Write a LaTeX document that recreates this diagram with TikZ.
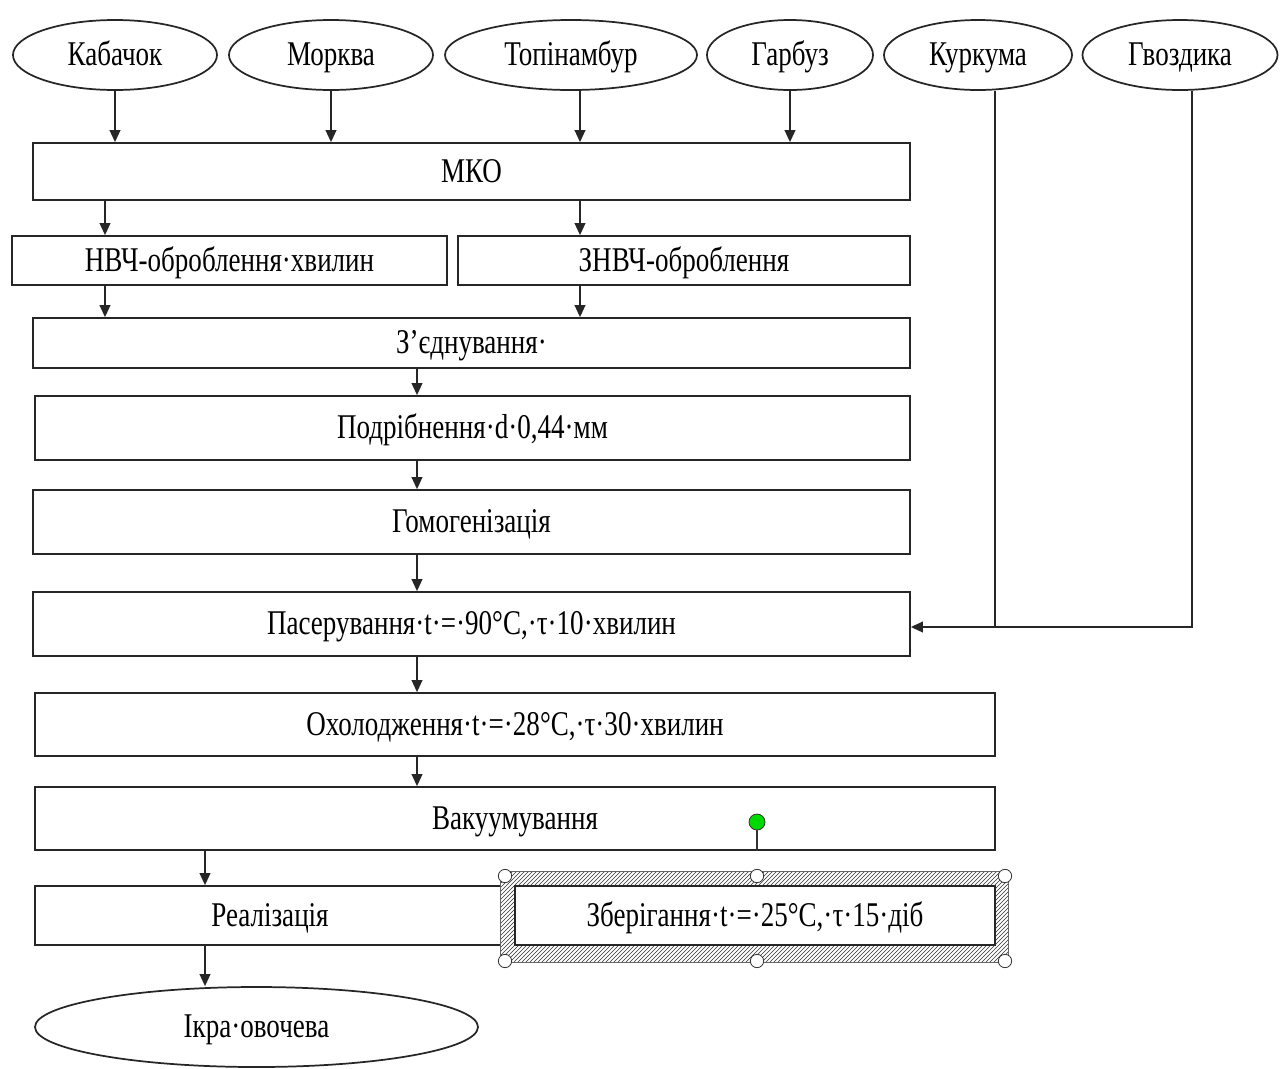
\documentclass[tikz,border=0pt]{standalone}
\usepackage{fontspec}
\setmainfont{Liberation Serif}[FakeStretch=0.78]
\usetikzlibrary{arrows.meta,patterns,shapes.geometric}
\begin{document}
\begin{tikzpicture}[x=0.75pt,y=-0.75pt,
  txt/.style={font=\fontsize{26}{29}\selectfont,text height=17pt,text depth=1pt},
  box/.style={txt,draw=black!85,line width=1.3pt,rectangle,inner sep=0pt},
  oval/.style={txt,draw=black!85,line width=1.3pt,ellipse,inner sep=0pt,minimum height=52.5pt},
  arr/.style={draw=black!85,line width=1.3pt,-{Triangle[length=9pt,width=8pt]}},
  ln/.style={draw=black!85,line width=1.3pt},
  handle/.style={draw=black!80,fill=white,line width=0.6pt,circle,inner sep=0pt,minimum size=10pt}]
\useasboundingbox (0,0) rectangle (1280,1068);
% inputs
\node[oval,minimum width=153pt] (kab) at (115,55) {Кабачок};
\node[oval,minimum width=153pt] (mor) at (331,55) {Морква};
\node[oval,minimum width=189pt] (top) at (571,55) {Топінамбур};
\node[oval,minimum width=124.5pt] (gar) at (790,55) {Гарбуз};
\node[oval,minimum width=141pt] (kur) at (978,55) {Куркума};
\node[oval,minimum width=146.25pt] (gvo) at (1180,55) {Гвоздика};
% process boxes
\node[box,minimum width=657.75pt,minimum height=42.75pt] (mko) at (471.5,171.5) {МКО};
\node[box,minimum width=326.25pt,minimum height=36.75pt] (nvch) at (229.5,260.5) {НВЧ-оброблення·хвилин};
\node[box,minimum width=339pt,minimum height=36.75pt] (znvch) at (684,260.5) {ЗНВЧ-оброблення};
\node[box,minimum width=657.75pt,minimum height=37.5pt] (zed) at (471.5,343) {З’єднування·};
\node[box,minimum width=656.25pt,minimum height=48pt] (podr) at (472.5,428) {Подрібнення·d·0,44·мм};
\node[box,minimum width=657.75pt,minimum height=48pt] (homo) at (471.5,522) {Гомогенізація};
\node[box,minimum width=657.75pt,minimum height=48pt] (paser) at (471.5,624) {Пасерування·t·=·90°C,·τ·10·хвилин};
\node[box,minimum width=720pt,minimum height=47.25pt] (okhol) at (515,724.5) {Охолодження·t·=·28°C,·τ·30·хвилин};
\node[box,minimum width=720pt,minimum height=47.25pt] (vak) at (515,818.5) {Вакуумування};
\node[box,minimum width=352.5pt,minimum height=44.25pt] (real) at (270,915.5) {Реалізація};
\node[oval,minimum width=332.25pt,minimum height=60pt] (ikra) at (256.5,1027) {Ікра·овочева};
% helper coordinates
\coordinate (c105) at (105,0);
\coordinate (c205) at (205,0);
\coordinate (c417) at (417,0);
\coordinate (c580) at (580,0);
\coordinate (jk) at (995,627);
\coordinate (jg) at (1192,627);
% arrows from inputs
\draw[arr] (kab.south) -- (kab.south |- mko.north);
\draw[arr] (mor.south) -- (mor.south |- mko.north);
\draw[arr] (top.south -| c580) -- (mko.north -| c580);
\draw[arr] (gar.south) -- (gar.south |- mko.north);
\draw[ln] (kur.south -| jk) -- (jk);
\draw[ln] (gvo.south -| jg) -- (jg) -- (jk);
\draw[arr] (jk) -- (jk -| paser.east);
% flow arrows
\draw[arr] (mko.south -| c105) -- (nvch.north -| c105);
\draw[arr] (mko.south -| c580) -- (znvch.north -| c580);
\draw[arr] (nvch.south -| c105) -- (zed.north -| c105);
\draw[arr] (znvch.south -| c580) -- (zed.north -| c580);
\draw[arr] (zed.south -| c417) -- (podr.north -| c417);
\draw[arr] (podr.south -| c417) -- (homo.north -| c417);
\draw[arr] (homo.south -| c417) -- (paser.north -| c417);
\draw[arr] (paser.south -| c417) -- (okhol.north -| c417);
\draw[arr] (okhol.south -| c417) -- (vak.north -| c417);
\draw[arr] (vak.south -| c205) -- (real.north -| c205);
\draw[arr] (real.south -| c205) -- (ikra.north -| c205);
% selected box (storage) with selection frame
\fill[white] (500,871) rectangle (1008,962);
\fill[pattern=north east lines,pattern color=black!80,even odd rule] (500,871) rectangle (1008,962) (515,886) rectangle (995,945);
\draw[black!60,line width=0.4pt] (500,871) rectangle (1008,962);
\node[box,fill=white,minimum width=360pt,minimum height=44.25pt] (zber) at (755,915.5) {Зберігання·t·=·25°C,·τ·15·діб};
\node[handle] (h1) at (505,876) {};
\node[handle] (h2) at (757,876) {};
\node[handle] (h3) at (1005,876) {};
\node[handle] (h4) at (505,961) {};
\node[handle] (h5) at (757,961) {};
\node[handle] (h6) at (1005,961) {};
\node[handle,fill=green!85!black,minimum size=12pt] (rot) at (757,822) {};
\draw[black!80,line width=1pt] (rot.south) -- (rot.south |- vak.south);
\end{tikzpicture}
\end{document}
